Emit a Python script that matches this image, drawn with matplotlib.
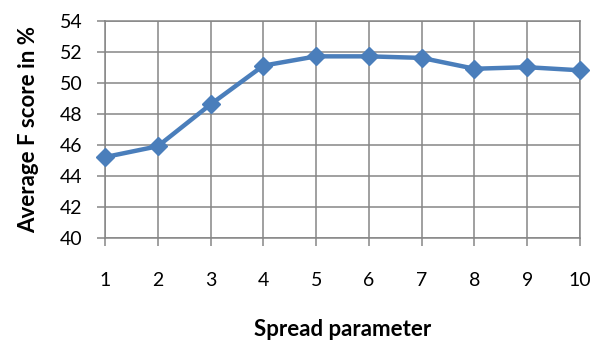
import matplotlib
matplotlib.use("Agg")
import matplotlib.pyplot as plt

spread = [1, 2, 3, 4, 5, 6, 7, 8, 9, 10]
f_score = [45.2, 45.9, 48.6, 51.1, 51.7, 51.7, 51.6, 50.9, 51.0, 50.8]
y_ticks = [40, 42, 44, 46, 48, 50, 52, 54]

plt.rcParams['font.family'] = ['Lato', 'DejaVu Sans']

fig = plt.figure(figsize=(5.96, 3.42), dpi=100)
ax = fig.add_axes([105/596, 1 - 237.7/342, (580-105)/596, (237.7-20.7)/342])

grid_c = '#868686'
ax.plot(spread, f_score, color='#4A7EBB', lw=3.2, marker='D', markersize=9.5,
        markerfacecolor='#4A7EBB', markeredgecolor='#4A7EBB', zorder=3, clip_on=False)

ax.set_xlim(1, 10)
ax.set_ylim(40, 54)
ax.set_xticks(spread)
ax.set_yticks(y_ticks)
ax.grid(True, color=grid_c, lw=1.1)
for s in ax.spines.values():
    s.set_color(grid_c)
    s.set_linewidth(1.1)
ax.tick_params(axis='both', direction='out', length=6, width=1.1, color=grid_c,
               labelsize=14, labelcolor='black')
ax.tick_params(axis='x', pad=19)
ax.tick_params(axis='y', pad=10)

ax.set_xlabel('Spread parameter', fontsize=16, fontweight='bold', labelpad=21)
ax.set_ylabel('Average F score in %', fontsize=16, fontweight='bold', labelpad=15)

fig.savefig('out.png', dpi=100)
